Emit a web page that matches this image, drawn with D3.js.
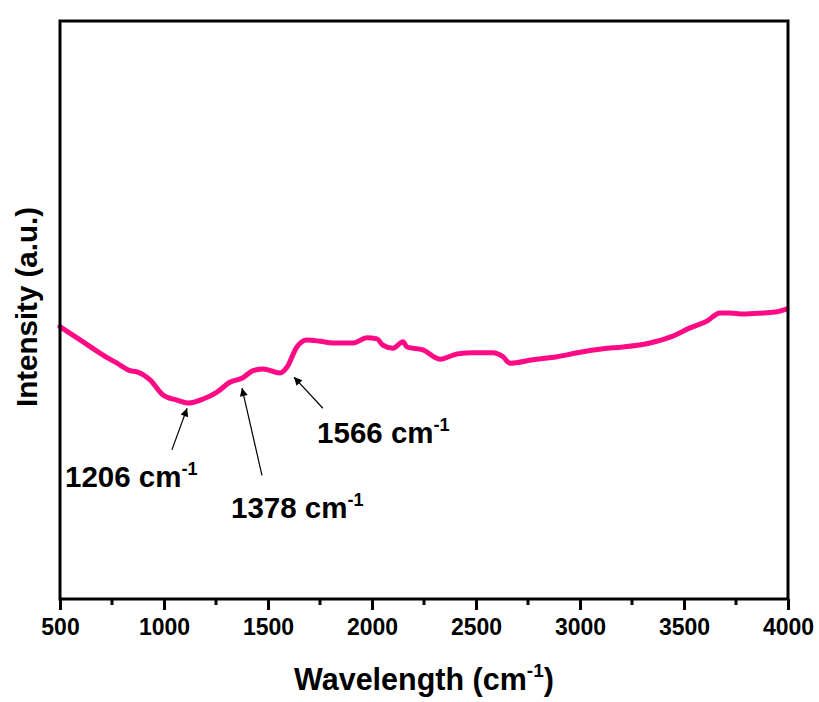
<!DOCTYPE html>
<html>
<head>
<meta charset="utf-8">
<script src="https://cdn.jsdelivr.net/npm/d3@7"></script>
<style>
  body { margin: 0; background: #fff; }
  svg { display: block; font-family: Arial, "Liberation Sans", sans-serif; }
</style>
</head>
<body>
<div id="chart"></div>
<script>
// spectrum (wavenumber in cm-1, intensity in a.u.)
var wavenumber = [500, 611, 707, 774, 837, 870, 933, 995, 1063, 1115, 1188, 1255, 1317, 1375,
  1428, 1476, 1558, 1591, 1639, 1687, 1750, 1812, 1909, 1976, 2024, 2053, 2101, 2149, 2168,
  2245, 2327, 2409, 2486, 2582, 2630, 2663, 2774, 2889, 2986, 3111, 3207, 3337, 3433, 3529,
  3611, 3673, 3721, 3784, 3880, 3947, 3995];
var intensity = [47.1, 44.5, 42.2, 40.8, 39.5, 39.3, 37.9, 35.3, 34.4, 33.9, 34.6, 35.8, 37.5, 38.2,
  39.5, 39.8, 39.1, 40.1, 43.6, 44.8, 44.6, 44.3, 44.3, 45.2, 45.0, 43.9, 43.4, 44.5, 43.6,
  43.1, 41.5, 42.4, 42.6, 42.6, 41.9, 40.8, 41.4, 41.9, 42.6, 43.3, 43.6, 44.3, 45.3, 46.9,
  48.1, 49.5, 49.5, 49.3, 49.5, 49.7, 50.2];

var xTicks = [500, 1000, 1500, 2000, 2500, 3000, 3500, 4000];

// peak annotations: label, arrow tip, arrow tail, label anchor (data units)
var peakLabels = ["1206", "1378", "1566"];
var arrowTip = [[1111, 33.0], [1375, 36.5], [1625, 38.4]];
var arrowTail = [[1038, 25.8], [1471, 21.4], [1764, 33.0]];
var labelPos = [[524, 19.4], [1322, 14.0], [1736, 27.0]];

var opt = {
  width: 819, height: 702,
  margin: {top: 21, right: 31, bottom: 103, left: 60}
};
opt.inWidth = opt.width - opt.margin.left - opt.margin.right;
opt.inHeight = opt.height - opt.margin.top - opt.margin.bottom;

var svg = d3.select("#chart").append("svg")
  .attr("width", opt.width)
  .attr("height", opt.height);

svg.append("defs").append("marker")
  .attr("id", "arrow")
  .attr("viewBox", "0 0 10 10")
  .attr("refX", 10).attr("refY", 5)
  .attr("markerWidth", 11).attr("markerHeight", 8)
  .attr("markerUnits", "userSpaceOnUse")
  .attr("orient", "auto")
  .append("path")
    .attr("d", "M0,0 L10,5 L0,10 Z")
    .attr("fill", "#000");

var g = svg.append("g")
  .attr("transform", `translate(${opt.margin.left},${opt.margin.top})`);

var x = d3.scaleLinear().domain([500, 4000]).range([0, opt.inWidth]);
var y = d3.scaleLinear().domain([0, 100]).range([opt.inHeight, 0]);

// curve
var pts = wavenumber.map(function(w, i) { return [w, intensity[i]]; });
g.append("path")
  .datum(pts)
  .attr("fill", "none")
  .attr("stroke", "#ff0a85")
  .attr("stroke-width", 5)
  .attr("stroke-linejoin", "round")
  .attr("stroke-linecap", "round")
  .attr("d", d3.line()
    .x(function(d) { return x(d[0]); })
    .y(function(d) { return y(d[1]); })
    .curve(d3.curveMonotoneX));

// frame
g.append("rect")
  .attr("width", opt.inWidth)
  .attr("height", opt.inHeight)
  .attr("fill", "none")
  .attr("stroke", "#000")
  .attr("stroke-width", 3);

// bottom axis, major + minor ticks
var xAxis = g.append("g")
  .attr("transform", `translate(0,${opt.inHeight})`)
  .call(d3.axisBottom(x).tickValues(xTicks).tickSize(11).tickPadding(9)
    .tickFormat(d3.format("d")));
xAxis.select(".domain").remove();
xAxis.selectAll(".tick line").attr("stroke-width", 3);
xAxis.selectAll(".tick text")
  .attr("fill", "#000")
  .style("font-size", "23px")
  .style("font-weight", "bold");

var minor = xTicks.slice(0, -1).map(function(t) { return t + 250; });
g.append("g").selectAll("line")
  .data(minor).enter()
  .append("line")
    .attr("x1", function(d) { return x(d); })
    .attr("x2", function(d) { return x(d); })
    .attr("y1", opt.inHeight)
    .attr("y2", opt.inHeight + 6)
    .attr("stroke", "#000")
    .attr("stroke-width", 3);

// axis titles
var xt = svg.append("text")
  .attr("x", opt.margin.left + opt.inWidth / 2)
  .attr("y", 690)
  .attr("text-anchor", "middle")
  .style("font-size", "30.5px")
  .style("font-weight", "bold");
xt.append("tspan").text("Wavelength (cm");
xt.append("tspan").attr("dy", -13).style("font-size", "19px").text("-1");
xt.append("tspan").attr("dy", 13).text(")");

svg.append("text")
  .attr("transform", "translate(37,307) rotate(-90)")
  .attr("text-anchor", "middle")
  .style("font-size", "29.5px")
  .style("font-weight", "bold")
  .text("Intensity (a.u.)");

// peak arrows and labels
peakLabels.forEach(function(lab, i) {
  g.append("line")
    .attr("x1", x(arrowTail[i][0])).attr("y1", y(arrowTail[i][1]))
    .attr("x2", x(arrowTip[i][0])).attr("y2", y(arrowTip[i][1]))
    .attr("stroke", "#000")
    .attr("stroke-width", 1.2)
    .attr("marker-end", "url(#arrow)");
  var t = g.append("text")
    .attr("x", x(labelPos[i][0]))
    .attr("y", y(labelPos[i][1]))
    .style("font-size", "29.5px")
    .style("font-weight", "bold");
  t.append("tspan").text(lab + " cm");
  t.append("tspan").attr("dy", -12).style("font-size", "18px").text("-1");
});
</script>
</body>
</html>
